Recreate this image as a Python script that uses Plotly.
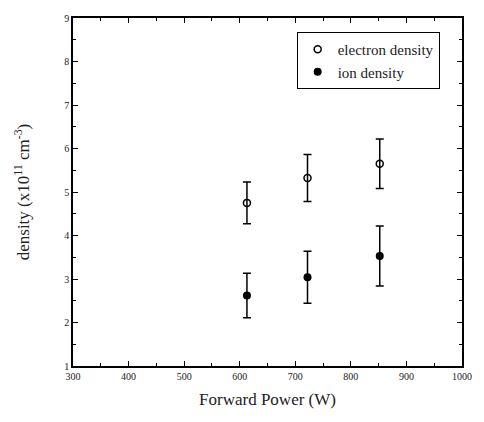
import plotly.graph_objects as go

power = [613, 722, 852]
electron_density = [4.75, 5.32, 5.65]
electron_err = [0.48, 0.54, 0.57]
ion_density = [2.62, 3.04, 3.53]
ion_err = [0.51, 0.60, 0.69]

x_ticks = [300, 400, 500, 600, 700, 800, 900, 1000]
y_ticks = [1, 2, 3, 4, 5, 6, 7, 8, 9]

serif = "Liberation Serif"

fig = go.Figure()
fig.add_trace(go.Scatter(
    x=power, y=electron_density, mode="markers", name="electron density",
    marker=dict(symbol="circle-open", size=7, color="black", line=dict(width=1.5, color="black")),
    error_y=dict(type="data", array=electron_err, visible=True, color="black", thickness=1.5, width=4),
))
fig.add_trace(go.Scatter(
    x=power, y=ion_density, mode="markers", name="ion density",
    marker=dict(symbol="circle", size=8, color="black"),
    error_y=dict(type="data", array=ion_err, visible=True, color="black", thickness=1.5, width=4),
))

axis_common = dict(
    showgrid=False, zeroline=False, showline=True, linecolor="black", linewidth=1.5,
    ticks="inside", ticklen=5, tickwidth=1, tickcolor="black", mirror="ticks",
    tickfont=dict(family=serif, size=10, color="#222"),
)

fig.update_xaxes(
    range=[300, 1000], tickvals=x_ticks, ticktext=[str(v) for v in x_ticks],
    minor=dict(dtick=50, ticks="inside", ticklen=3, tickcolor="black", showgrid=False),
    title=dict(text="Forward Power (W)", font=dict(family=serif, size=17, color="#222"), standoff=12),
    **axis_common,
)
fig.update_yaxes(
    range=[1, 9], tickvals=y_ticks, ticktext=[str(v) for v in y_ticks],
    minor=dict(dtick=0.5, ticks="inside", ticklen=3, tickcolor="black", showgrid=False),
    title=dict(text="density (x10<sup>11</sup> cm<sup>-3</sup>)", font=dict(family=serif, size=17, color="#222"), standoff=30),
    **axis_common,
)

fig.update_layout(
    width=484, height=422,
    margin=dict(l=73, r=14, t=13, b=56),
    paper_bgcolor="white", plot_bgcolor="white",
    font=dict(family=serif, color="#222"),
    showlegend=True,
    legend=dict(
        x=0.575, y=0.96, xanchor="left", yanchor="top",
        bordercolor="black", borderwidth=1, bgcolor="white",
        font=dict(family=serif, size=15, color="#222"),
        tracegroupgap=0, itemwidth=30,
    ),
)

fig.write_html("out.html")
